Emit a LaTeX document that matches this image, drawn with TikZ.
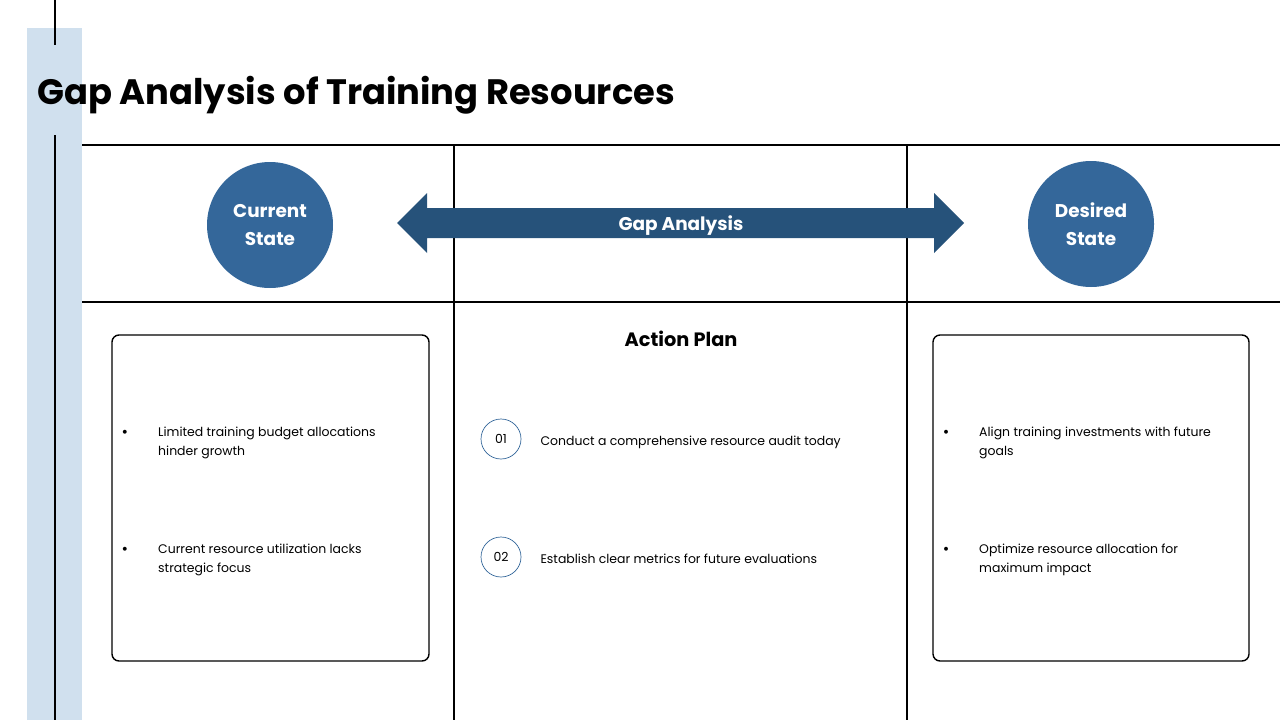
\documentclass[tikz,border=0pt]{standalone}
\usepackage{fontspec}
\setmainfont{Poppins}
\usepackage{xcolor}
\usetikzlibrary{positioning}

\definecolor{bandblue}{RGB}{208,224,238}
\definecolor{stateblue}{RGB}{52,103,154}
\definecolor{arrowblue}{RGB}{38,82,122}

\begin{document}
\begin{tikzpicture}[x=0.02cm, y=-0.02cm,
    statecircle/.style={circle, fill=stateblue, minimum size=126*0.02cm, text=white, font=\fontsize{10.5}{16}\selectfont\bfseries, align=center},
    listbox/.style={draw, rounded corners=4pt, line width=0.8pt},
    bulletdot/.style={font=\fontsize{9}{9}\selectfont},
    bullettext/.style={anchor=west, align=left, font=\fontsize{7.1}{10.8}\selectfont},
    numcircle/.style={circle, draw=stateblue, minimum size=40*0.02cm, font=\fontsize{7.1}{9}\selectfont}]
    \useasboundingbox (0,0) rectangle (1280,720);

    % side band and rules
    \fill[bandblue] (27,28) rectangle (82,720);
    \draw[line width=1.1pt] (55,0) -- (55,45);
    \draw[line width=1.1pt] (55,135) -- (55,720);
    \node[anchor=base west, inner sep=0pt, font=\fontsize{20.1}{22}\selectfont\bfseries] (title) at (37,104) {Gap Analysis of Training Resources};

    % table grid
    \draw[line width=0.8pt] (82,145) -- (1280,145);
    \draw[line width=0.8pt] (82,302) -- (1280,302);
    \draw[line width=0.8pt] (454,145) -- (454,720);
    \draw[line width=0.8pt] (907,145) -- (907,720);

    % states
    \node[statecircle] (current) at (270,225) {Current\\State};
    \node[statecircle] (desired) at (1091,224) {Desired\\State};

    % gap arrow
    \coordinate (gl) at (397,223);
    \coordinate (gr) at (964,223);
    \fill[arrowblue] (gl) -- (427,193) -- (427,208) -- (934,208) -- (934,193) -- (gr)
        -- (934,253) -- (934,238) -- (427,238) -- (427,253) -- cycle;
    \node[text=white, font=\fontsize{10.5}{12}\selectfont\bfseries] (gap) at (681,226) {Gap Analysis};

    % current state box
    \draw[listbox] (112,335) rectangle (429,661);
    \node[bulletdot] (cb1) at (125,434) {\textbullet};
    \node[bullettext] (ct1) at (152,443) {Limited training budget allocations\\hinder growth};
    \node[bulletdot] (cb2) at (125,551) {\textbullet};
    \node[bullettext] (ct2) at (152,560) {Current resource utilization lacks\\strategic focus};

    % action plan
    \node[font=\fontsize{11}{12}\selectfont\bfseries] (plan) at (681,339) {Action Plan};
    \node[numcircle] (n1) at (501,439) {01};
    \node[bullettext, right=13*0.02cm of n1, yshift=-3*0.02cm] (a1) {Conduct a comprehensive resource audit today};
    \node[numcircle] (n2) at (501,557) {02};
    \node[bullettext, right=13*0.02cm of n2, yshift=-2*0.02cm] (a2) {Establish clear metrics for future evaluations};

    % desired state box
    \draw[listbox] (933,335) rectangle (1249,661);
    \node[bulletdot] (db1) at (946,434) {\textbullet};
    \node[bullettext] (dt1) at (973,443) {Align training investments with future\\goals};
    \node[bulletdot] (db2) at (946,551) {\textbullet};
    \node[bullettext] (dt2) at (973,560) {Optimize resource allocation for\\maximum impact};
\end{tikzpicture}
\end{document}
